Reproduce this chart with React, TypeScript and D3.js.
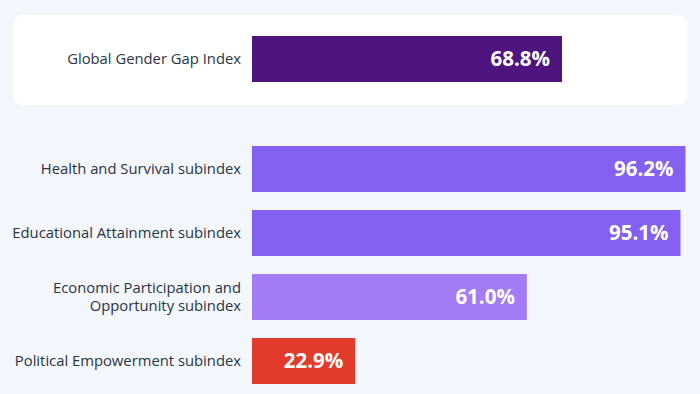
import React from 'react';
import * as d3 from 'd3';

const categories = [
  'Global Gender Gap Index',
  'Health and Survival subindex',
  'Educational Attainment subindex',
  'Economic Participation and Opportunity subindex',
  'Political Empowerment subindex',
];
const labelLines = [
  ['Global Gender Gap Index'],
  ['Health and Survival subindex'],
  ['Educational Attainment subindex'],
  ['Economic Participation and', 'Opportunity subindex'],
  ['Political Empowerment subindex'],
];
const values = [68.8, 96.2, 95.1, 61.0, 22.9];
const barColors = ['#4f157f', '#8360f0', '#8360f0', '#a47bf7', '#e23a2b'];

const W = 700;
const H = 394;

export default function App() {
  const x = d3.scaleLinear().domain([0, 100]).range([252, 702.6]);
  // first bar sits in its own card, then a gap before the subindices
  const rowTop = [36, 146, 210, 274, 338];
  const barH = 46;
  const fmt = (v: number) => d3.format('.1f')(v) + '%';

  return (
    <div style={{ position: 'fixed', left: 0, top: 0 }}>
      <svg width={W} height={H} style={{ display: 'block', fontFamily: '"Open Sans", "Noto Sans", sans-serif' }}>
        <rect x={0} y={0} width={W} height={H} fill="#f3f6fa" />
        <rect x={13} y={15} width={674} height={90} rx={10} fill="#ffffff" />
        {categories.map((c, i) => {
          const y0 = rowTop[i];
          const lines = labelLines[i];
          const mid = y0 + barH / 2;
          return (
            <g key={c}>
              <rect x={x(0)} y={y0} width={x(values[i]) - x(0)} height={barH} fill={barColors[i]} />
              <text
                x={x(values[i]) - 12}
                y={mid}
                dy="0.36em"
                textAnchor="end"
                fill="#ffffff"
                fontSize={20.5}
                fontWeight={700}
              >
                {fmt(values[i])}
              </text>
              {lines.map((ln, j) => (
                <text
                  key={j}
                  x={241}
                  y={mid + (j - (lines.length - 1) / 2) * 18}
                  dy="0.35em"
                  textAnchor="end"
                  fill="#2b3445"
                  fontSize={14.8}
                >
                  {ln}
                </text>
              ))}
            </g>
          );
        })}
      </svg>
    </div>
  );
}
